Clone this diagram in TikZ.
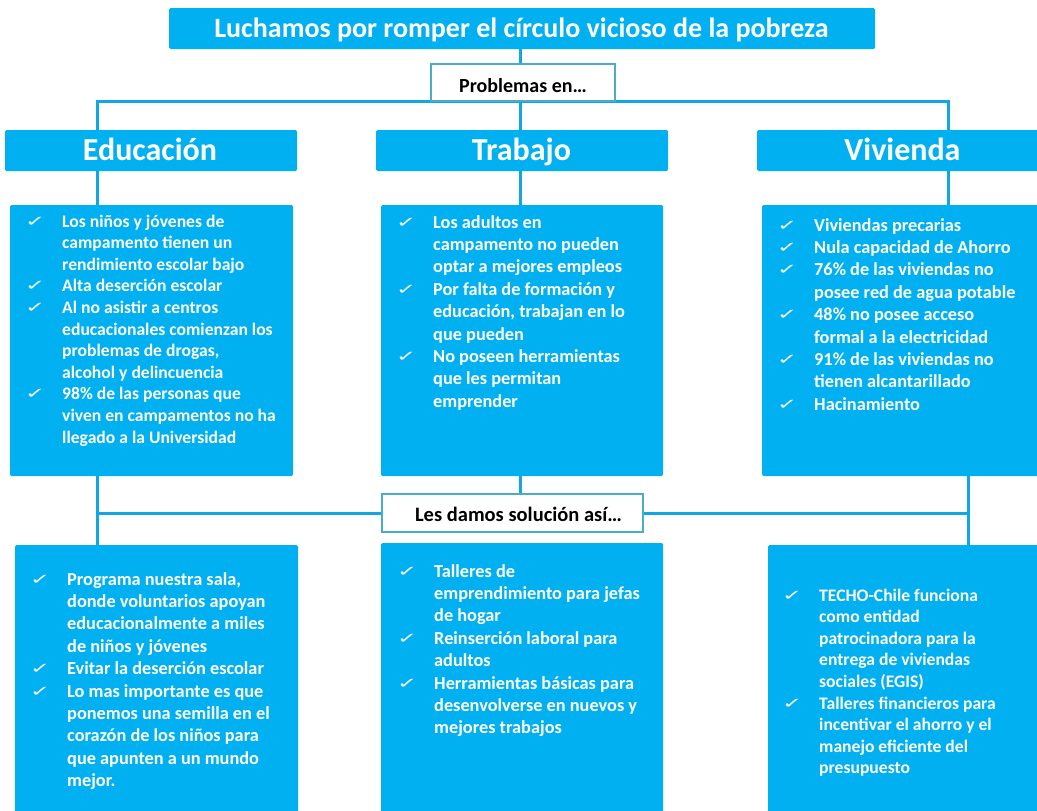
\documentclass[tikz,border=0pt]{standalone}
\usepackage{fontspec}
\setmainfont{Carlito}
\newfontfamily\chkfont{DejaVu Sans}
\usetikzlibrary{backgrounds}
\definecolor{boxblue}{HTML}{00B0F0}
\definecolor{lineblue}{HTML}{11A6E4}
\definecolor{tealedge}{HTML}{4BACC6}
\newcommand\ck{\raisebox{1pt}{\makebox[37pt][l]{\chkfont\fontsize{21}{21}\selectfont\scalebox{1.15}[0.7]{✓}}}}
\tikzset{
  bluebox/.style={fill=boxblue, draw=none, rounded corners=1.5pt, inner sep=0, outer sep=0},
  labelbox/.style={fill=white, draw=tealedge, line width=2.5pt, inner sep=0, outer sep=0},
  conn/.style={draw=lineblue, line width=3pt},
  shad/.style={draw=black!18, line width=3pt},
  hdr/.style={anchor=base, inner sep=0, text=white},
  lbl/.style={anchor=base, inner sep=0, text=black},
  btext/.style={anchor=base west, inner sep=0, text=white},
  big/.style={font=\bfseries\fontsize{18.3}{22.4}\selectfont},
  small/.style={font=\bfseries\fontsize{17.6}{21.6}\selectfont}
}
\begin{document}
\begin{tikzpicture}[x=1pt,y=-1pt]
\useasboundingbox (0,0) rectangle (1037,811);
% helper x positions
\coordinate (xe) at (97,0);
\coordinate (xm) at (520,0);
\coordinate (xv) at (948,0);
\coordinate (xw) at (968,0);
% boxes
\node[bluebox, minimum width=706pt, minimum height=41pt] (title) at (522,28.5) {};
\node[labelbox, minimum width=184pt, minimum height=37pt] (prob) at (523,82.5) {};
\node[bluebox, minimum width=292pt, minimum height=41pt] (edu) at (151,150.5) {};
\node[bluebox, minimum width=292pt, minimum height=41pt] (trab) at (522,150.5) {};
\node[bluebox, minimum width=292pt, minimum height=41pt] (viv) at (903,150.5) {};
\node[bluebox, minimum width=283pt, minimum height=271pt] (eduP) at (151.5,340.5) {};
\node[bluebox, minimum width=282pt, minimum height=271pt] (trabP) at (522,340.5) {};
\node[bluebox, minimum width=283pt, minimum height=271pt] (vivP) at (903.5,340.5) {};
\node[labelbox, minimum width=261pt, minimum height=38pt] (sol) at (512.5,513) {};
\node[bluebox, minimum width=283pt, minimum height=272pt] (eduS) at (156.5,681) {};
\node[bluebox, minimum width=282pt, minimum height=274pt] (trabS) at (522,680) {};
\node[bluebox, minimum width=283pt, minimum height=272pt] (vivS) at (909.5,681) {};
% header texts
\node[hdr, font=\bfseries\fontsize{28}{30}\selectfont] (titleT) at (521.5,37) {Luchamos por romper el círculo vicioso de la pobreza};
\node[lbl, font=\bfseries\fontsize{20}{22}\selectfont] (probT) at (523,92) {Problemas en…};
\node[hdr, font=\bfseries\fontsize{32}{36}\selectfont] (eduT) at (150,160) {Educación};
\node[hdr, font=\bfseries\fontsize{32}{36}\selectfont] (trabT) at (521.5,160) {Trabajo};
\node[hdr, font=\bfseries\fontsize{32}{36}\selectfont] (vivT) at (902.5,160) {Vivienda};
\node[lbl, font=\bfseries\fontsize{20.5}{22}\selectfont] (solT) at (518.5,521) {Les damos solución así…};
% problem texts
\node[btext, small] (eduPT) at (25,227) {\begin{tabular}[t]{@{}l@{}l@{}}
\ck & Los niños y jóvenes de\\
 & campamento tienen un\\
 & rendimiento escolar bajo\\
\ck & Alta deserción escolar\\
\ck & Al no asistir a centros\\
 & educacionales comienzan los\\
 & problemas de drogas,\\
 & alcohol y delincuencia\\
\ck & 98\% de las personas que\\
 & viven en campamentos no ha\\
 & llegado a la Universidad
\end{tabular}};
\node[btext, big] (trabPT) at (396,228) {\begin{tabular}[t]{@{}l@{}l@{}}
\ck & Los adultos en\\
 & campamento no pueden\\
 & optar a mejores empleos\\
\ck & Por falta de formación y\\
 & educación, trabajan en lo\\
 & que pueden\\
\ck & No poseen herramientas\\
 & que les permitan\\
 & emprender
\end{tabular}};
\node[btext, big] (vivPT) at (777,231) {\begin{tabular}[t]{@{}l@{}l@{}}
\ck & Viviendas precarias\\
\ck & Nula capacidad de Ahorro\\
\ck & 76\% de las viviendas no\\
 & posee red de agua potable\\
\ck & 48\% no posee acceso\\
 & formal a la electricidad\\
\ck & 91\% de las viviendas no\\
 & tienen alcantarillado\\
\ck & Hacinamiento
\end{tabular}};
% solution texts
\node[btext, big] (eduST) at (30,585) {\begin{tabular}[t]{@{}l@{}l@{}}
\ck & Programa nuestra sala,\\
 & donde voluntarios apoyan\\
 & educacionalmente a miles\\
 & de niños y jóvenes\\
\ck & Evitar la deserción escolar\\
\ck & Lo mas importante es que\\
 & ponemos una semilla en el\\
 & corazón de los niños para\\
 & que apunten a un mundo\\
 & mejor.
\end{tabular}};
\node[btext, big] (trabST) at (397,577) {\begin{tabular}[t]{@{}l@{}l@{}}
\ck & Talleres de\\
 & emprendimiento para jefas\\
 & de hogar\\
\ck & Reinserción laboral para\\
 & adultos\\
\ck & Herramientas básicas para\\
 & desenvolverse en nuevos y\\
 & mejores trabajos
\end{tabular}};
\node[btext, small] (vivST) at (782,601) {\begin{tabular}[t]{@{}l@{}l@{}}
\ck & TECHO-Chile funciona\\
 & como entidad\\
 & patrocinadora para la\\
 & entrega de viviendas\\
 & sociales (EGIS)\\
\ck & Talleres financieros para\\
 & incentivar el ahorro y el\\
 & manejo eficiente del\\
 & presupuesto
\end{tabular}};
% connectors
\begin{scope}[on background layer]
\fill[white] (0,0) rectangle (1037,811);
\begin{scope}[shift={(1,1.5)}, shad]
\draw (title.south -| xm) -- (prob.north -| xm);
\draw (edu.north -| xe) -- (prob.south -| xe) -- (prob.south -| xv) -- (viv.north -| xv);
\draw (prob.south -| xm) -- (trab.north -| xm);
\draw (edu.south -| xe) -- (eduP.north -| xe);
\draw (trab.south -| xm) -- (trabP.north -| xm);
\draw (viv.south -| xv) -- (vivP.north -| xv);
\draw (eduP.south -| xe) -- (eduS.north -| xe);
\draw (sol.west) -- (sol.west -| xe);
\draw (sol.east) -- (sol.east -| xw);
\draw (trabP.south -| xm) -- (sol.north -| xm);
\draw (vivP.south -| xw) -- (vivS.north -| xw);
\end{scope}
\draw[conn] (title.south -| xm) -- (prob.north -| xm);
\draw[conn] (edu.north -| xe) -- (prob.south -| xe) -- (prob.south -| xv) -- (viv.north -| xv);
\draw[conn] (prob.south -| xm) -- (trab.north -| xm);
\draw[conn] (edu.south -| xe) -- (eduP.north -| xe);
\draw[conn] (trab.south -| xm) -- (trabP.north -| xm);
\draw[conn] (viv.south -| xv) -- (vivP.north -| xv);
\draw[conn] (eduP.south -| xe) -- (eduS.north -| xe);
\draw[conn] (sol.west) -- (sol.west -| xe);
\draw[conn] (sol.east) -- (sol.east -| xw);
\draw[conn] (trabP.south -| xm) -- (sol.north -| xm);
\draw[conn] (vivP.south -| xw) -- (vivS.north -| xw);
\end{scope}
\end{tikzpicture}
\end{document}
